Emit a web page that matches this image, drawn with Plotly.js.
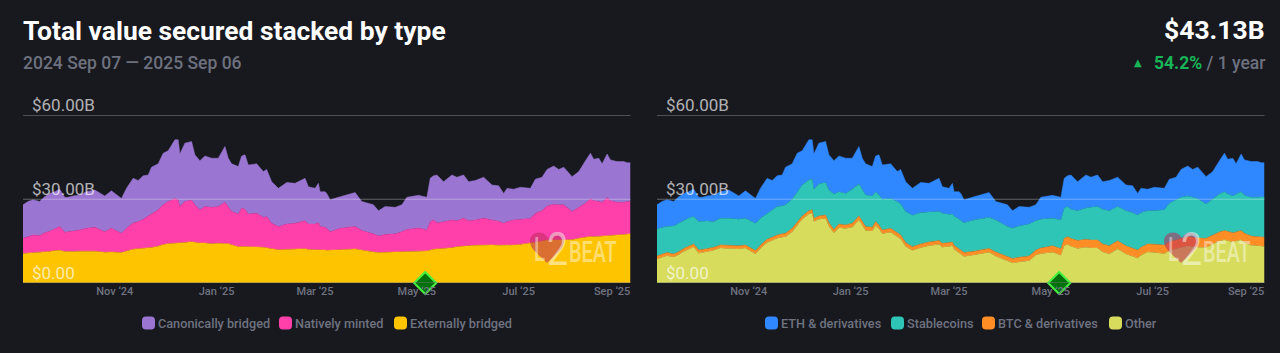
<!DOCTYPE html>
<html>
<head>
<meta charset="utf-8">
<script src="https://cdn.plot.ly/plotly-3.0.1.min.js"></script>
<style>html,body{margin:0;padding:0;background:#18191f;overflow:hidden}#c{width:1280px;height:353px}</style>
</head>
<body>
<div id="c"></div>
<script>
// Days since 2024-09-07
const days = [0,3,6,10,13,16,19,22,25,27,30,34,38,43,49,53,59,62,66,69,72,75,77,81,84,87,91,93,94,97,101,103,106,109,113,117,121,123,125,129,131,133,135,140,144,146,149,153,158,163,169,171,175,177,178,181,182,184,190,199,203,210,213,217,223,227,230,237,242,244,246,248,252,257,260,264,267,271,276,281,285,288,290,294,298,304,307,311,314,318,321,324,329,333,337,340,342,345,347,350,352,356,360,362,364];

// Left chart, $B
const externallyBridged = [10.6,10.7,10.8,11.0,11.1,11.3,11.6,11.7,11.3,11.2,11.3,11.4,11.5,11.4,11.0,11.1,10.9,11.4,12.1,12.3,12.4,12.6,12.7,13.2,13.8,14.1,14.2,14.3,14.2,14.5,14.8,14.6,14.3,14.3,14.1,14.2,14.3,14.1,13.7,13.0,13.1,13.1,13.0,12.9,12.8,12.7,12.3,11.9,12.0,12.1,12.3,12.0,12.0,12.0,12.0,11.8,11.7,11.7,11.9,12.2,11.7,11.1,10.9,11.0,11.2,11.4,11.4,11.4,11.5,11.9,12.1,12.2,12.3,12.6,13.0,13.3,13.3,13.5,13.6,13.6,13.5,13.5,13.5,13.6,13.8,14.2,14.6,15.0,15.4,15.4,15.4,15.4,15.5,16.0,16.5,16.7,16.6,16.7,16.8,16.8,17.0,17.2,17.4,17.5,17.6];
const nativelyMinted = [5.4,5.9,6.4,6.0,6.9,7.2,7.9,8.5,6.9,7.1,7.3,7.6,8.1,8.6,7.4,8.5,6.9,8.2,9.4,9.7,10.4,11.4,12.0,13.0,14.2,15.1,16.1,15.4,13.2,14.7,14.9,13.4,11.9,13.1,13.0,13.2,14.6,13.3,11.9,11.7,13.7,13.3,11.7,12.1,10.7,11.1,9.1,8.3,9.1,9.3,10.0,9.1,9.1,9.6,8.2,8.2,7.9,6.7,7.7,8.0,7.1,6.5,5.9,6.4,6.4,7.0,7.8,8.3,7.5,10.1,10.5,9.4,9.6,10.0,9.3,9.9,9.0,9.1,9.6,9.0,8.6,7.9,8.5,9.0,9.0,8.9,10.4,10.9,12.2,12.8,12.6,12.6,10.1,11.1,12.1,13.4,12.9,12.5,12.1,13.8,12.5,11.7,11.5,11.7,11.6];
const canonicallyBridged = [12.0,12.6,12.6,12.2,12.9,13.6,13.2,13.4,12.5,12.4,12.6,12.5,13.1,13.3,12.8,13.4,12.5,14.3,16.0,14.7,15.6,14.7,16.8,16.5,18.5,18.2,21.0,21.6,18.8,20.9,21.0,17.9,17.6,18.1,17.6,17.3,20.0,17.3,17.1,17.0,18.7,19.5,17.6,17.7,16.4,16.9,14.9,13.7,14.9,14.3,15.2,13.4,12.8,14.1,12.5,12.7,12.5,11.4,11.3,12.2,10.4,10.4,9.1,10.0,9.5,9.6,11.5,11.7,11.7,15.5,15.8,17.1,14.4,16.1,15.6,15.5,14.0,14.1,14.7,12.5,12.7,10.7,11.9,11.0,11.5,10.8,12.2,12.0,13.1,13.7,12.7,13.5,12.5,12.8,15.2,16.4,14.8,15.5,13.8,15.6,14.6,14.6,14.6,13.9,13.9];

// Right chart, $B
const other = [8.6,9.2,9.8,9.3,10.1,11.3,12.2,12.9,10.7,11.0,11.2,11.7,12.5,12.4,12.2,12.5,10.4,12.4,14.5,15.2,16.0,16.4,16.6,18.4,20.8,22.8,24.7,25.0,22.0,22.8,23.1,20.3,17.9,19.8,19.5,20.0,22.6,20.6,18.8,18.6,20.6,19.4,17.6,18.2,16.6,15.8,13.1,11.6,12.6,13.3,13.8,12.8,13.1,13.3,12.1,10.9,10.2,9.5,10.0,11.0,9.6,7.8,7.2,7.5,8.0,10.0,10.5,11.0,9.9,13.3,13.8,13.2,12.4,12.8,12.5,12.5,11.1,10.4,12.2,10.4,9.5,8.9,9.9,11.1,10.9,10.5,11.6,12.2,12.7,13.3,13.1,12.8,12.7,13.9,15.0,15.5,15.1,14.7,15.0,15.5,14.5,13.5,13.3,13.1,13.1];
const btcDerivatives = [1.1,1.1,1.1,1.1,1.1,1.1,1.1,1.1,1.1,1.1,1.1,1.1,1.1,1.1,1.1,1.1,1.2,1.2,1.2,1.2,1.2,1.2,1.2,1.2,1.2,1.2,1.2,1.2,1.2,1.2,1.3,1.3,1.3,1.3,1.3,1.4,1.4,1.4,1.4,1.4,1.4,1.4,1.4,1.4,1.4,1.4,1.4,1.4,1.4,1.4,1.4,1.4,1.4,1.4,1.4,1.4,1.4,1.4,1.4,1.4,1.5,1.6,1.6,1.7,1.7,1.8,2.0,2.3,2.4,2.7,2.8,2.8,2.8,2.9,2.9,2.9,2.9,2.9,2.9,2.9,2.9,2.9,2.9,2.9,3.0,3.1,3.2,3.2,3.3,3.3,3.3,3.3,3.3,3.3,3.3,3.3,3.3,3.3,3.3,3.3,3.3,3.3,3.3,3.3,3.3];
const stablecoins = [9.7,9.5,9.3,10.0,10.3,9.9,10.0,9.8,10.2,10.0,9.9,9.1,9.6,9.7,9.5,9.6,9.8,9.6,9.3,9.8,10.2,10.0,10.2,10.4,10.7,11.1,11.0,11.0,10.4,11.5,11.6,11.7,12.7,11.6,11.3,12.2,11.5,11.3,11.3,11.2,10.7,10.7,11.0,10.7,11.2,11.1,11.1,11.3,11.2,10.7,10.4,10.8,10.0,10.0,10.5,10.5,10.7,10.7,11.2,11.1,11.5,10.8,10.8,11.2,11.4,10.5,10.3,9.9,10.3,10.8,10.8,10.4,10.7,11.2,11.7,12.0,12.4,12.6,12.3,12.6,12.8,12.6,12.4,11.9,12.0,12.6,13.8,14.4,14.7,14.6,14.3,14.1,12.3,12.8,13.6,13.9,13.5,13.2,13.4,13.9,13.6,13.9,14.1,14.5,14.5];
const ethDerivatives = [8.6,9.4,9.6,8.8,9.4,9.8,9.4,9.8,8.7,8.6,9.0,9.6,9.5,10.1,8.4,9.8,8.9,10.7,12.5,10.5,11.0,11.1,13.5,12.7,13.8,12.3,14.4,14.1,12.6,14.6,14.7,12.6,11.9,12.8,12.6,11.1,13.4,11.4,11.2,10.5,12.8,14.4,12.3,12.4,10.7,12.4,10.7,9.6,10.8,10.3,11.9,9.5,9.4,11.0,8.7,9.9,9.8,8.2,8.3,8.9,6.6,7.8,6.3,7.0,6.0,5.7,7.9,8.2,8.1,10.7,11.0,12.3,10.4,11.8,10.8,11.3,9.9,10.8,10.5,9.2,9.6,7.7,8.7,7.7,8.4,7.7,8.6,8.1,10.0,10.7,10.0,11.3,9.8,9.9,11.9,13.8,12.4,13.5,11.0,13.5,12.7,12.8,12.8,12.2,12.2];

const leftNames = ["Canonically bridged","Natively minted","Externally bridged"];
const rightNames = ["ETH & derivatives","Stablecoins","BTC & derivatives","Other"];
const leftColors = ["#9a76d2","#ff40ab","#ffc400"];
const rightColors = ["#2f88ff","#2ec4b6","#ff8d26","#d8dc5c"];
const yTicks = [0,30,60];
const yTickText = ["$0.00","$30.00B","$60.00B"];
const xTickDates = ["2024-11-01","2025-01-01","2025-03-01","2025-05-01","2025-07-01","2025-08-26"];
const xTickText = ["Nov ‘24","Jan ‘25","Mar ‘25","May ‘25","Jul ‘25","Sep ‘25"];
const milestoneDate = ["2025-05-06"];
const milestoneValue = [0];

const bg = "#18191f";
const yMax = 70;
const yTop = 283 - yMax * (167.5 / 60);
const dates = days.map(d => new Date(Date.UTC(2024, 8, 7 + d)).toISOString().slice(0, 10));
const px = x => x / 1280, py = y => 1 - y / 353;

function area(name, vals, color, xa, ya, group) {
  return {type:"scatter", mode:"lines", name, x:dates, y:vals, xaxis:xa, yaxis:ya, stackgroup:group,
    line:{color, width:0.5, shape:"linear"}, fillcolor:color, hoverinfo:"skip", showlegend:false};
}
function milestone(xa, ya) {
  return {type:"scatter", mode:"markers", x:milestoneDate, y:milestoneValue, xaxis:xa, yaxis:ya, cliponaxis:false,
    marker:{symbol:"diamond", size:17, color:"#00700a", line:{color:"#45f03f", width:2}}, hoverinfo:"skip", showlegend:false};
}
const traces = [
  area(leftNames[2], externallyBridged, leftColors[2], "x", "y", "a"),
  area(leftNames[1], nativelyMinted, leftColors[1], "x", "y", "a"),
  area(leftNames[0], canonicallyBridged, leftColors[0], "x", "y", "a"),
  area(rightNames[3], other, rightColors[3], "x2", "y2", "b"),
  area(rightNames[2], btcDerivatives, rightColors[2], "x2", "y2", "b"),
  area(rightNames[1], stablecoins, rightColors[1], "x2", "y2", "b"),
  area(rightNames[0], ethDerivatives, rightColors[0], "x2", "y2", "b"),
  milestone("x", "y"),
  milestone("x2", "y2")
];

const xAxis = (l, r, anchor) => ({domain:[px(l), px(r)], anchor, range:["2024-09-07","2025-09-06"], type:"date",
  tickmode:"array", tickvals:xTickDates, ticktext:xTickText, showgrid:false, zeroline:false, showline:false, ticks:"",
  ticklen:0, tickfont:{family:"Roboto", size:11, weight:500, color:"#6f7380"}, tickangle:0, automargin:false});
const yAxis = anchor => ({domain:[py(283), py(yTop)], anchor, range:[0,yMax], tickmode:"array", tickvals:yTicks, ticktext:yTickText,
  showgrid:false, zeroline:false, showline:false, ticks:"", ticklabelposition:"inside", ticklabelstandoff:6, ticklabelshift:-10, layer:"above traces",
  tickfont:{family:"Roboto", size:17, color:"rgba(255,255,255,0.68)"}, automargin:false});

const shapes = [], annotations = [];
[["x","y"],["x2","y2"]].forEach(([xa, ya]) => {
  yTicks.forEach(v => shapes.push({type:"line", layer:"above", xref:xa + " domain", yref:ya, x0:0, x1:1, y0:v, y1:v,
    line:{color:v === 0 ? "rgba(120,120,125,0.9)" : v === 30 ? "rgba(255,255,255,0.32)" : "rgba(255,255,255,0.24)", width:1}}));
});

function note(text, x, y, size, color, anchor, weight, family) {
  annotations.push({text, xref:"paper", yref:"paper", x:px(x), y:py(y), xanchor:anchor || "left", yanchor:"middle", showarrow:false,
    font:{family:family || "Roboto", size, color, weight:weight || 400}, borderpad:0, borderwidth:0});
}
note("2024 Sep 07 — 2025 Sep 06", 23, 63, 17.5, "#6d717e", "left", 500);
note("$43.13B", 1265, 30, 26.5, "#ffffff", "right", 700);
note('<span style="color:#18b558;font-weight:700">54.2%</span> / 1 year', 1265, 63, 17.5, "#6d717e", "right", 500);
note("▲", 1138, 62, 10, "#18b558", "center", 400, "DejaVu Sans");

function swatch(x, color) {
  const l = px(x), r = px(x + 13), t = py(316.5), b = py(329.5), rx = 4 / 1280, ry = 4 / 353;
  shapes.push({type:"path", xref:"paper", yref:"paper", fillcolor:color, line:{width:0},
    path:`M${l + rx},${b} L${r - rx},${b} Q${r},${b} ${r},${b + ry} L${r},${t - ry} Q${r},${t} ${r - rx},${t} L${l + rx},${t} Q${l},${t} ${l},${t - ry} L${l},${b + ry} Q${l},${b} ${l + rx},${b} Z`});
}
[142,279,394].forEach((x,i) => { swatch(x, leftColors[i]); note(leftNames[i], x + 16, 323, 12.7, "#6f7380", "left", 500); });
[765,891,982,1109].forEach((x,i) => { swatch(x, rightColors[i]); note(rightNames[i], x + 16, 323, 12.7, "#6f7380", "left", 500); });

// L2BEAT watermark
const condensed = {L:0.6, "2":0.8, BEAT:0.66};
function watermark(dx) {
  const c = (x, y) => px(x + dx) + "," + py(y);
  shapes.push({type:"path", xref:"paper", yref:"paper", layer:"above", fillcolor:"rgba(190,40,90,0.55)", line:{width:0},
    path:`M${c(547,263)} C${c(538,254)} ${c(530,249)} ${c(530,241)} C${c(530,232)} ${c(543,229)} ${c(548,238)} C${c(553,229)} ${c(564,232)} ${c(564,241)} C${c(564,249)} ${c(556,254)} ${c(547,263)} Z`});
  note("L", 534 + dx, 249, 34, "rgba(255,255,255,0.45)", "left", 500);
  note("2", 547 + dx, 248, 47, "rgba(255,255,255,0.5)", "left", 400);
  note("BEAT", 569 + dx, 251, 30, "rgba(255,255,255,0.45)", "left", 500);
}
watermark(0); watermark(634);

const layout = {
  width:1280, height:353, margin:{l:0,r:0,t:0,b:0}, paper_bgcolor:bg, plot_bgcolor:bg, showlegend:false,
  title:{text:"Total value secured stacked by type", x:px(23), xanchor:"left", xref:"paper", y:py(31), yanchor:"middle",
    font:{family:"Roboto", size:26.4, weight:700, color:"#ffffff"}},
  xaxis:xAxis(23, 630.5, "y"), yaxis:yAxis("x"),
  xaxis2:xAxis(657, 1264.5, "y2"), yaxis2:yAxis("x2"),
  shapes, annotations
};
Plotly.newPlot("c", traces, layout, {displayModeBar:false, staticPlot:true}).then(() => {
  document.querySelectorAll(".annotation-text").forEach(t => {
    const k = condensed[t.textContent];
    if (!k) return;
    const left = t.getBBox().x;
    t.setAttribute("transform", `translate(${left},0) scale(${k},1) translate(${-left},0)`);
  });
});
</script>
</body>
</html>
